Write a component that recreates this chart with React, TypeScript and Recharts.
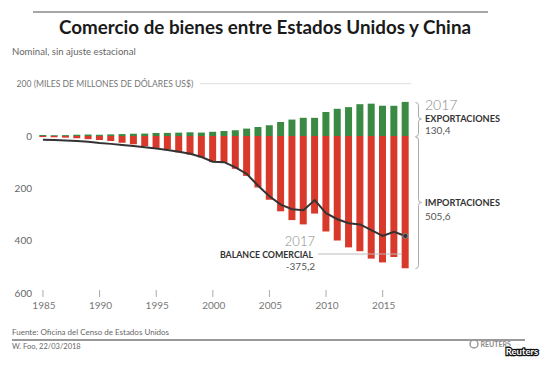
import React from "react";
import {
  ComposedChart,
  Bar,
  Line,
  XAxis,
  YAxis,
} from "recharts";

const YEARS = [
  1985, 1986, 1987, 1988, 1989, 1990, 1991, 1992, 1993, 1994, 1995, 1996,
  1997, 1998, 1999, 2000, 2001, 2002, 2003, 2004, 2005, 2006, 2007, 2008,
  2009, 2010, 2011, 2012, 2013, 2014, 2015, 2016, 2017,
];

// miles de millones de dólares
const EXPORTS = [
  3.9, 3.1, 3.5, 5.0, 5.8, 4.8, 6.3, 7.4, 8.8, 9.3, 11.7, 12.0, 12.9, 14.2,
  13.1, 16.2, 19.2, 22.1, 28.4, 34.4, 41.2, 53.7, 62.9, 69.7, 69.5, 91.9,
  104.1, 110.5, 121.7, 123.7, 115.9, 115.6, 130.4,
];

const IMPORTS = [
  3.9, 4.8, 6.3, 8.5, 12.0, 15.2, 19.0, 25.7, 31.5, 38.8, 45.5, 51.5, 62.6,
  71.2, 81.8, 100.0, 102.3, 125.2, 152.4, 196.7, 243.5, 287.8, 321.4, 337.8,
  296.4, 364.9, 399.4, 425.6, 440.4, 468.5, 483.2, 462.4, 505.6,
];

const BALANCE = [
  -14, -15, -17, -19, -22, -27, -30, -34, -38, -43, -48, -53, -60, -68, -80,
  -98, -100, -120, -145, -190, -230, -262, -280, -284, -245, -295, -318, -333,
  -338, -360, -382, -366, -382,
];

const Y_TICKS = [200, 0, -200, -400, -600];

const GREEN = "#3a8a44";
const RED = "#d8392b";
const FONT = "Lato, 'Noto Sans', sans-serif";

const chartData = YEARS.map((year, i) => ({
  year,
  exports: EXPORTS[i],
  imports: -IMPORTS[i],
  balance: BALANCE[i],
}));

const YTick = ({ y, payload }: any) => {
  const v = payload.value;
  if (v === 200) {
    return (
      <g>
        <text x={16.5} y={y + 3.2} fontSize={8.6} fill="#777" fontFamily={FONT}>
          200 (MILES DE MILLONES DE DÓLARES US$)
        </text>
        <line x1={200} x2={411} y1={y} y2={y} stroke="#ddd" strokeWidth={1} />
      </g>
    );
  }
  return (
    <text
      x={32}
      y={y + 3.5}
      fontSize={10}
      fill="#666"
      textAnchor="end"
      fontFamily={FONT}
    >
      {Math.abs(v)}
    </text>
  );
};

const XTick = ({ x, y, payload }: any) => (
  <g>
    <line x1={x} x2={x} y1={y - 3} y2={y + 4} stroke="#aaa" strokeWidth={1} />
    <text
      x={x + 1}
      y={y + 15.5}
      fontSize={10}
      fill="#777"
      textAnchor="middle"
      fontFamily={FONT}
    >
      {payload.value}
    </text>
  </g>
);

const LastDot = (props: any) => {
  const { cx, cy, index } = props;
  if (index !== chartData.length - 1) return <g key={`d-${index}`} />;
  return (
    <circle
      key={`d-${index}`}
      cx={cx}
      cy={cy}
      r={2.6}
      fill="#333"
      stroke="#888"
      strokeWidth={1}
    />
  );
};

function brace(x: number, y1: number, y2: number, ym: number, w: number) {
  const m = x + w / 2;
  const r = 3;
  return `M ${x} ${y1} Q ${m} ${y1} ${m} ${y1 + r} L ${m} ${ym - r} Q ${m} ${ym} ${
    x + w
  } ${ym} Q ${m} ${ym} ${m} ${ym + r} L ${m} ${y2 - r} Q ${m} ${y2} ${x} ${y2}`;
}

export default function App() {
  return (
    <div
      style={{
        position: "absolute",
        left: 0,
        top: 0,
        width: 550,
        height: 374,
        background: "#fff",
        fontFamily: FONT,
      }}
    >
      <ComposedChart
        width={550}
        height={374}
        data={chartData}
        stackOffset="sign"
        margin={{ top: 83.7, right: 139, bottom: 51, left: 7.3 }}
      >
        <XAxis
          dataKey="year"
          interval={4}
          axisLine={false}
          tickLine={false}
          tickSize={0}
          tickMargin={0}
          height={30}
          tick={<XTick />}
        />
        <YAxis
          type="number"
          domain={[-600, 200]}
          ticks={Y_TICKS}
          width={30}
          axisLine={false}
          tickLine={false}
          tick={<YTick />}
          interval={0}
        />
        <Bar
          dataKey="exports"
          stackId="t"
          fill={GREEN}
          barSize={7}
          isAnimationActive={false}
        />
        <Bar
          dataKey="imports"
          stackId="t"
          fill={RED}
          barSize={7}
          isAnimationActive={false}
        />
        <Line
          dataKey="balance"
          type="linear"
          stroke="#333"
          strokeWidth={2}
          dot={<LastDot />}
          activeDot={false}
          isAnimationActive={false}
        />
      </ComposedChart>

      <svg
        width={550}
        height={374}
        style={{ position: "absolute", left: 0, top: 0, pointerEvents: "none" }}
        fontFamily={FONT}
      >
        <line x1={33} x2={488} y1={12} y2={12} stroke="#888" strokeWidth={1.5} />
        <text
          x={265}
          y={33.5}
          textAnchor="middle"
          fontSize={18.8}
          fontWeight={700}
          fill="#1a1a1a"
        >
          Comercio de bienes entre Estados Unidos y China
        </text>
        <text x={12} y={55} fontSize={9.6} fill="#666">
          Nominal, sin ajuste estacional
        </text>

        <path d={brace(415.5, 102.5, 136.5, 119, 6)} fill="none" stroke="#aaa" strokeWidth={1} />
        <path d={brace(415.5, 137, 268.5, 202.5, 6)} fill="none" stroke="#aaa" strokeWidth={1} />

        <text x={425} y={110} fontSize={14} fontWeight={300} fill="#888">
          2017
        </text>
        <text x={425} y={122} fontSize={9.2} fontWeight={700} fill="#333">
          EXPORTACIONES
        </text>
        <text x={425} y={134} fontSize={10} fill="#555">
          130,4
        </text>
        <text x={425} y={206} fontSize={9.2} fontWeight={700} fill="#333">
          IMPORTACIONES
        </text>
        <text x={425} y={219.5} fontSize={10} fill="#555">
          505,6
        </text>

        <text x={315} y={246} fontSize={13} fontWeight={300} fill="#888" textAnchor="end">
          2017
        </text>
        <text x={313} y={257.5} fontSize={8.8} fontWeight={700} fill="#333" textAnchor="end">
          BALANCE COMERCIAL
        </text>
        <line x1={318} x2={402} y1={254} y2={254} stroke="#bbb" strokeWidth={1} />
        <text x={315} y={270} fontSize={10} fill="#555" textAnchor="end">
          -375,2
        </text>

        <text x={12} y={335} fontSize={8} fill="#666">
          Fuente: Oficina del Censo de Estados Unidos
        </text>
        <line x1={12} x2={525} y1={340} y2={340} stroke="#777" strokeWidth={1.5} />
        <text x={12} y={348.5} fontSize={7.5} fill="#666">
          W. Foo, 22/03/2018
        </text>

        <circle cx={474} cy={344} r={4} fill="none" stroke="#999" strokeWidth={1.5} />
        <text x={480.5} y={346.5} fontSize={7} fontWeight={700} fill="#888">
          REUTERS
        </text>
        <text
          x={522}
          y={355}
          fontSize={9.5}
          fontWeight={700}
          fill="#fff"
          stroke="#111"
          strokeWidth={2.5}
          paintOrder="stroke"
          textAnchor="middle"
        >
          Reuters
        </text>
      </svg>
    </div>
  );
}
